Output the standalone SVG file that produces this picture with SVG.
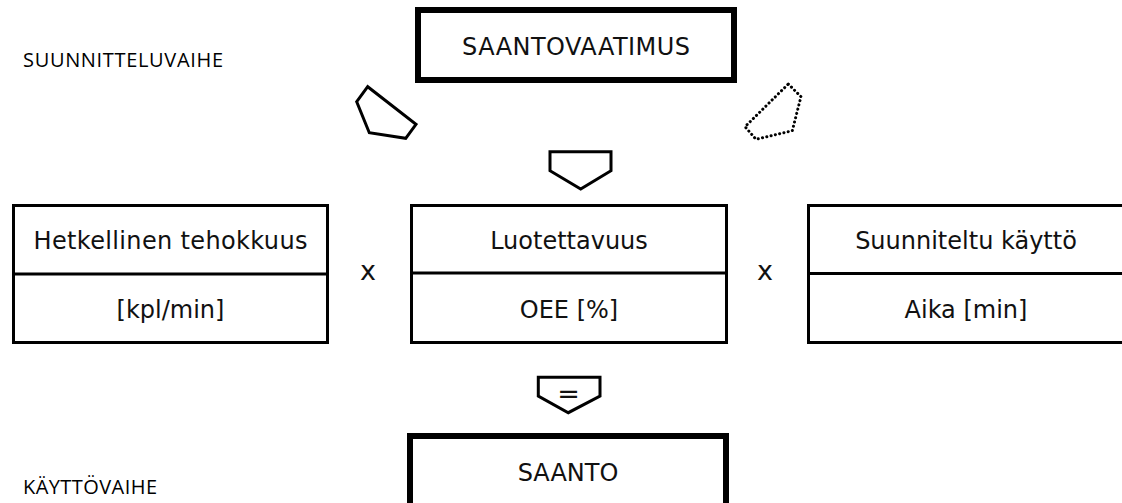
<svg xmlns="http://www.w3.org/2000/svg" width="1122" height="503" viewBox="0 0 1122 503">
  <style>
    .lbl { font-family: "Open Sans", "Noto Sans", sans-serif; font-size: 20px; fill: #000; }
    .t { font-family: "DejaVu Sans", Verdana, sans-serif; font-size: 24px; fill: #111; text-anchor: middle; }
    .thick { fill: #fff; stroke: #000; stroke-width: 6; }
    .box { fill: #fff; stroke: #000; stroke-width: 3; }
    .div { stroke: #000; stroke-width: 3; }
    .arrow { fill: #fff; stroke: #000; stroke-width: 3; stroke-linejoin: miter; }
    .dotted { fill: #fff; stroke: #000; stroke-width: 3; stroke-dasharray: 0.1 4.3; stroke-linecap: round; }
  </style>

  <!-- phase labels -->
  <text class="lbl" x="23" y="67" textLength="200">SUUNNITTELUVAIHE</text>
  <text class="lbl" x="23" y="494" textLength="134">KÄYTTÖVAIHE</text>

  <g id="requirement">
    <rect class="thick" x="418" y="10" width="316" height="70"/>
    <text class="t" x="576" y="55" textLength="228">SAANTOVAATIMUS</text>
  </g>

  <g id="connectors">
    <polygon class="arrow" points="367.7,86.7 356.7,101.7 369.3,132.7 405.7,138.3 416,124.3"/>
    <polygon class="dotted" points="788.3,84 801,96.7 792.3,130.7 756,139.3 745,126.7"/>
    <polygon class="arrow" points="550,151.7 611,151.7 611,170.7 580.7,189 550,170.7"/>
    <g id="equals">
      <polygon class="arrow" points="538.3,377.3 600,377.3 600,396 568.3,412.7 538.3,396"/>
      <text class="t" x="568.5" y="402.5" style="font-size:27px">=</text>
    </g>
  </g>

  <g id="rate">
    <rect class="box" x="13.5" y="205.5" width="314" height="137"/>
    <line class="div" x1="13.5" y1="274" x2="327.5" y2="274"/>
    <text class="t" x="170.5" y="249" textLength="274">Hetkellinen tehokkuus</text>
    <text class="t" x="170.5" y="318">[kpl/min]</text>
  </g>

  <text class="t" x="368" y="280" style="font-size:27px">x</text>

  <g id="reliability">
    <rect class="box" x="411.5" y="205.5" width="315" height="137"/>
    <line class="div" x1="411.5" y1="273" x2="726.5" y2="273"/>
    <text class="t" x="569" y="249">Luotettavuus</text>
    <text class="t" x="569" y="318">OEE [%]</text>
  </g>

  <text class="t" x="765" y="280" style="font-size:27px">x</text>

  <g id="usage">
    <rect class="box" x="808.5" y="205.5" width="320" height="137"/>
    <line class="div" x1="808.5" y1="273.5" x2="1128" y2="273.5"/>
    <text class="t" x="966" y="249">Suunniteltu käyttö</text>
    <text class="t" x="966" y="318">Aika [min]</text>
  </g>

  <g id="yield">
    <rect class="thick" x="410" y="436" width="316" height="90"/>
    <text class="t" x="568" y="481">SAANTO</text>
  </g>
</svg>
